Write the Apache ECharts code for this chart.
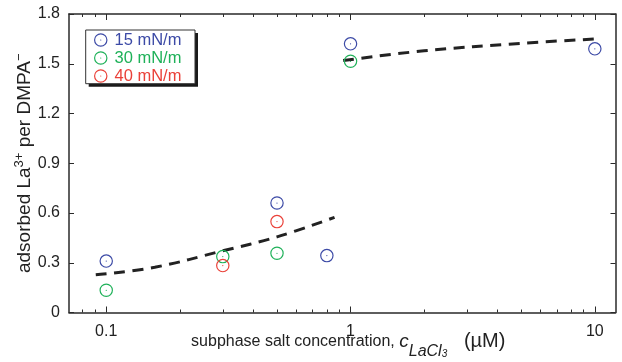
<!DOCTYPE html>
<html>
<head>
<meta charset="utf-8">
<script src="https://cdn.jsdelivr.net/npm/echarts@6/dist/echarts.min.js"></script>
<style>html,body{margin:0;padding:0;background:#fff}#c{width:622px;height:362px}</style>
</head>
<body>
<div id="c"></div>
<script>
// ---- data ----
var seriesNames = ['15 mN/m', '30 mN/m', '40 mN/m'];
var seriesColors = ['#3c4aa6', '#1fb159', '#ea4139'];
var conc15 = [0.1, 0.5, 0.8, 1, 10];
var ads15  = [0.31, 0.66, 0.343, 1.62, 1.59];
var conc30 = [0.1, 0.3, 0.5, 1];
var ads30  = [0.134, 0.337, 0.357, 1.515];
var conc40 = [0.3, 0.5];
var ads40  = [0.283, 0.548];
var fitLowConc = [0.0906, 0.158, 0.3, 0.5, 0.86];
var fitLowAds  = [0.227, 0.273, 0.372, 0.456, 0.574];
var fitHighConc = [0.933, 2, 5, 10.2];
var fitHighAds  = [1.519, 1.578, 1.623, 1.65];
var xMajorTicks = [0.1, 1, 10];
var xMinorTicks = [0.08, 0.09, 0.2, 0.3, 0.4, 0.5, 0.6, 0.7, 0.8, 0.9, 2, 3, 4, 5, 6, 7, 8, 9];
var yMin = 0, yMax = 1.8, yStep = 0.3;
var xMin = 0.0704, xMax = 12.15;

function pairs(a, b) { return a.map(function (v, i) { return [v, b[i]]; }); }

var ring = 'path://M0,-6A6,6 0 1,1 0,6A6,6 0 1,1 0,-6Z M0,-4.95A4.95,4.95 0 1,0 0,4.95A4.95,4.95 0 1,0 0,-4.95Z M-0.55,0A0.55,0.55 0 1,1 0.55,0A0.55,0.55 0 1,1 -0.55,0Z';

var font = 'Liberation Sans, Arial, Helvetica, sans-serif';
var axisColor = '#2a2a2a';
var textColor = '#222';

function xAxisDef(pos, major, showLabel) {
  return {
    type: 'log', logBase: 10, min: xMin, max: xMax, position: pos,
    gridIndex: 0,
    axisLine: { show: major, lineStyle: { color: axisColor, width: 1.5 } },
    splitLine: { show: false },
    minorTick: { show: false },
    axisTick: { show: true, inside: true, length: major ? 6 : 3,
      lineStyle: { color: axisColor, width: 1 },
      customValues: major ? xMajorTicks : xMinorTicks },
    axisLabel: { show: showLabel, customValues: xMajorTicks, margin: 11,
      color: textColor, fontSize: 16, fontFamily: font,
      formatter: function (v) { return String(+v.toPrecision(3)); } }
  };
}

var LH = 36;
var xAxes = [xAxisDef('bottom', true, true), xAxisDef('bottom', false, false),
             xAxisDef('top', true, false), xAxisDef('top', false, false)];
xAxes[0].name = '{m|subphase salt concentration, }{c|c}{s|LaCl}{t|3}{u|   (\u00b5M)}';
xAxes[0].nameLocation = 'middle';
xAxes[0].nameGap = 11;
xAxes[0].nameMoveOverlap = false;
xAxes[0].nameTextStyle = {
  fontFamily: font, color: textColor, fontSize: 16, lineHeight: LH,
  padding: [0, 0, 0, 12],
  rich: {
    m: { fontSize: 16, fontFamily: font, color: textColor, lineHeight: LH, verticalAlign: 'middle' },
    c: { fontSize: 19, fontFamily: font, color: textColor, fontStyle: 'italic', lineHeight: LH, verticalAlign: 'middle' },
    s: { fontSize: 16, fontFamily: font, color: textColor, fontStyle: 'italic', lineHeight: 12, verticalAlign: 'top', padding: [20, 0, 0, 0] },
    t: { fontSize: 10, fontFamily: font, color: textColor, fontStyle: 'italic', lineHeight: 8, verticalAlign: 'top', padding: [26, 0, 0, 0] },
    u: { fontSize: 20, fontFamily: font, color: textColor, lineHeight: LH, verticalAlign: 'middle' }
  }
};

function yAxisDef(pos, showLabel) {
  return {
    type: 'value', min: yMin, max: yMax, interval: yStep, position: pos,
    axisLine: { show: true, lineStyle: { color: axisColor, width: 1.5 } },
    splitLine: { show: false },
    axisTick: { show: true, inside: true, length: 5, lineStyle: { color: axisColor, width: 1 } },
    axisLabel: { show: showLabel, margin: 9, color: textColor, fontSize: 16, fontFamily: font }
  };
}
var yAxes = [yAxisDef('left', true), yAxisDef('right', false)];
yAxes[0].name = '{m|adsorbed La}{p|3+}{m| per DMPA}{p|\u2212}';
yAxes[0].nameLocation = 'middle';
yAxes[0].nameGap = 31;
yAxes[0].nameMoveOverlap = false;
yAxes[0].nameTextStyle = {
  fontFamily: font, color: textColor, fontSize: 19,
  rich: {
    m: { fontSize: 19, fontFamily: font, color: textColor, lineHeight: 26, verticalAlign: 'middle' },
    p: { fontSize: 13, fontFamily: font, color: textColor, lineHeight: 26, verticalAlign: 'top', padding: [1, 0, 0, 0] }
  }
};

var dataSets = [pairs(conc15, ads15), pairs(conc30, ads30), pairs(conc40, ads40)];
var series = seriesNames.map(function (n, i) {
  return {
    name: n, type: 'scatter', xAxisIndex: 0, yAxisIndex: 0,
    symbol: ring, symbolSize: 13.5, data: dataSets[i],
    itemStyle: { color: seriesColors[i], opacity: 1 },
    z: 3
  };
});
[[fitLowConc, fitLowAds], [fitHighConc, fitHighAds]].forEach(function (f, k) {
  series.push({
    name: 'fit' + k, type: 'line', xAxisIndex: 0, yAxisIndex: 0,
    data: pairs(f[0], f[1]), smooth: 0.4, showSymbol: false, symbol: 'none',
    lineStyle: { color: '#222', width: 3, type: [11, 7.5] }, z: 2, silent: true
  });
});

var chart = echarts.init(document.getElementById('c'), null, { renderer: 'canvas' });
chart.setOption({
  animation: false,
  backgroundColor: '#fff',
  grid: { left: 69, top: 14, right: 6.5, bottom: 49.5, containLabel: false, outerBoundsMode: 'none' },
  xAxis: xAxes,
  yAxis: yAxes,
  graphic: {
    elements: [
      { type: 'rect', id: 'legShadow', z: 5, silent: true,
        shape: { x: 88.7, y: 33, width: 109.3, height: 53.7 },
        style: { fill: '#1a1a1a', stroke: null } },
      { type: 'rect', id: 'legBox', z: 6, silent: true,
        shape: { x: 85.7, y: 30, width: 109.3, height: 53.7 },
        style: { fill: '#ffffff', stroke: '#333', lineWidth: 1 } }
    ]
  },
  legend: {
    data: seriesNames.map(function (n, i) {
      return { name: n, textStyle: { color: seriesColors[i] } };
    }),
    orient: 'vertical', left: 94, top: 31.25, z: 10,
    itemWidth: 13.5, itemHeight: 13.5, itemGap: 0.5,
    padding: 0,
    textStyle: { fontSize: 16.5, lineHeight: 17.5, fontFamily: font, padding: [0, 0, 0, 2] },
    selectedMode: false
  },
  series: series
});
</script>
</body>
</html>
